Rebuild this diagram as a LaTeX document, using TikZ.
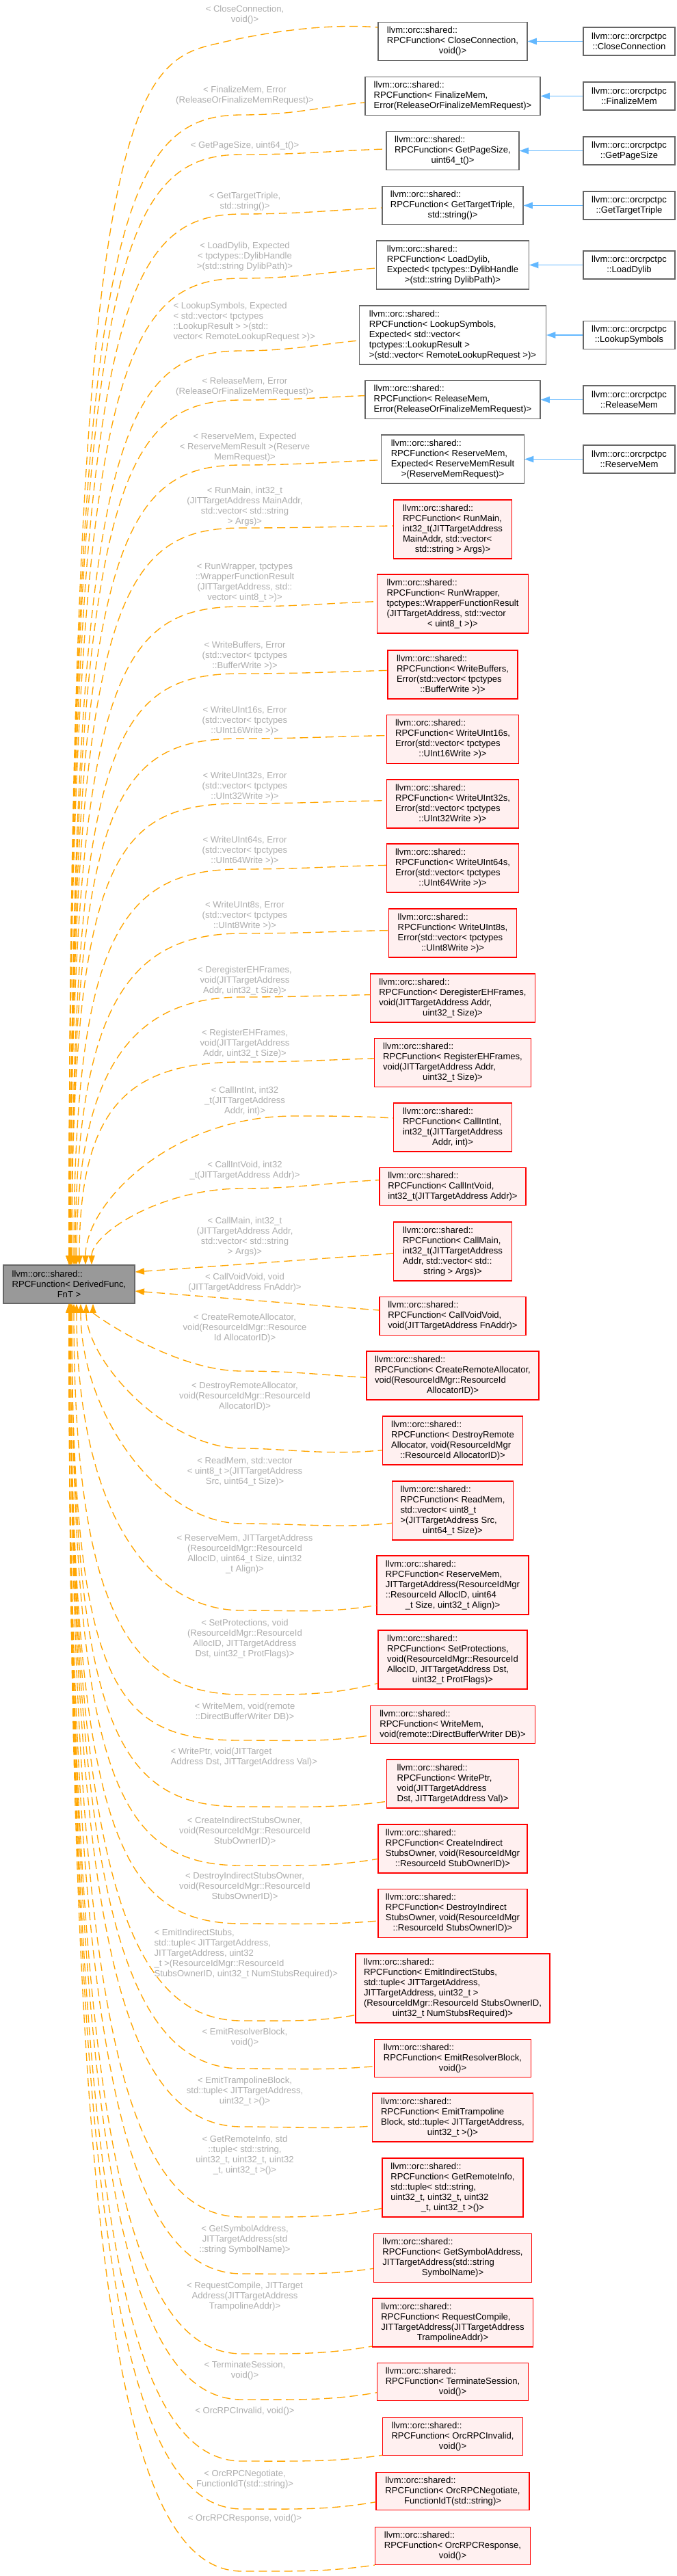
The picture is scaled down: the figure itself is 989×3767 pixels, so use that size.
\documentclass[tikz,border=0pt]{standalone}
\usepackage{fontspec}
\setmainfont{Liberation Sans}
\usetikzlibrary{arrows.meta}
\definecolor{edgeorange}{HTML}{FFA500}
\definecolor{steel}{HTML}{63B8FF}
\definecolor{fnred}{HTML}{FF0000}
\definecolor{fnfill}{HTML}{FFF0F0}
\definecolor{clsgray}{HTML}{666666}
\definecolor{basefill}{HTML}{999999}
\definecolor{lblgray}{HTML}{ADADAD}
\begin{document}
\begin{tikzpicture}[x=0.75pt,y=-0.75pt,>={Triangle[length=10pt,width=7pt]},
fnbox/.style={draw=fnred,fill=fnfill,line width=0.9pt,align=left,inner xsep=4pt,inner ysep=2pt,font={\fontsize{9.8}{11.25}\selectfont}},
clsbox/.style={draw=clsgray,fill=white,line width=0.9pt,align=left,inner xsep=4pt,inner ysep=2pt,font={\fontsize{9.8}{11.25}\selectfont}},
subbox/.style={draw=clsgray,fill=white,line width=0.9pt,align=center,minimum width=100.5pt,minimum height=30.75pt,inner sep=2pt,font={\fontsize{9.8}{11.25}\selectfont}},
basebox/.style={draw=clsgray,fill=basefill,line width=0.9pt,align=left,minimum width=144pt,minimum height=42pt,inner sep=2pt,font={\fontsize{9.8}{11.25}\selectfont}},
elabel/.style={align=center,text=lblgray,inner sep=1pt,font={\fontsize{9.8}{11.25}\selectfont}},
n3/.style={minimum height=41.7pt},n4/.style={minimum height=53.25pt},n5/.style={minimum height=64.5pt},n6/.style={minimum height=75.75pt},
tmpl/.style={draw=edgeorange,line width=1pt,dash pattern=on 9pt off 5pt,<-},
inh/.style={draw=steel,line width=1.1pt,->}]
\useasboundingbox (0,0) rectangle (989,3767);
% base class
\node[basebox](base) at (101,1878){llvm::orc::shared::\\RPCFunction< DerivedFunc,\\\hfill FnT >\hfill\null};
% template instances
\node[clsbox,n3,minimum width=163.5pt](f1) at (662,60.5){llvm::orc::shared::\\RPCFunction< CloseConnection,\\\hfill void()>\hfill\null};
\node[clsbox,n3,minimum width=192pt](f2) at (662,140.5){llvm::orc::shared::\\RPCFunction< FinalizeMem,\\\hfill Error(ReleaseOrFinalizeMemRequest)>\hfill\null};
\node[clsbox,n3,minimum width=145.5pt](f3) at (662,220.5){llvm::orc::shared::\\RPCFunction< GetPageSize,\\\hfill uint64\_t()>\hfill\null};
\node[clsbox,n3,minimum width=154.5pt](f4) at (662,300.5){llvm::orc::shared::\\RPCFunction< GetTargetTriple,\\\hfill std::string()>\hfill\null};
\node[clsbox,n4,minimum width=167.25pt](f5) at (662,387.5){llvm::orc::shared::\\RPCFunction< LoadDylib,\\Expected< tpctypes::DylibHandle\\\hfill >(std::string DylibPath)>\hfill\null};
\node[clsbox,n5,minimum width=204.75pt](f6) at (662,490){llvm::orc::shared::\\RPCFunction< LookupSymbols,\\Expected< std::vector<\\tpctypes::LookupResult >\\\hfill >(std::vector< RemoteLookupRequest >)>\hfill\null};
\node[clsbox,n3,minimum width=192pt](f7) at (662,584.5){llvm::orc::shared::\\RPCFunction< ReleaseMem,\\\hfill Error(ReleaseOrFinalizeMemRequest)>\hfill\null};
\node[clsbox,n4,minimum width=156.75pt](f8) at (662,671.5){llvm::orc::shared::\\RPCFunction< ReserveMem,\\Expected< ReserveMemResult\\\hfill >(ReserveMemRequest)>\hfill\null};
\node[fnbox,n5,minimum width=129.75pt](f9) at (662,774){llvm::orc::shared::\\RPCFunction< RunMain,\\int32\_t(JITTargetAddress\\MainAddr, std::vector<\\\hfill std::string > Args)>\hfill\null};
\node[fnbox,n5,minimum width=165.75pt](f10) at (662,883){llvm::orc::shared::\\RPCFunction< RunWrapper,\\tpctypes::WrapperFunctionResult\\(JITTargetAddress, std::vector\\\hfill < uint8\_t >)>\hfill\null};
\node[fnbox,n4,minimum width=142.5pt](f11) at (662,986.5){llvm::orc::shared::\\RPCFunction< WriteBuffers,\\Error(std::vector< tpctypes\\\hfill ::BufferWrite >)>\hfill\null};
\node[fnbox,n4,minimum width=145.1pt](f12) at (662,1081){llvm::orc::shared::\\RPCFunction< WriteUInt16s,\\Error(std::vector< tpctypes\\\hfill ::UInt16Write >)>\hfill\null};
\node[fnbox,n4,minimum width=145.1pt](f13) at (662,1175.5){llvm::orc::shared::\\RPCFunction< WriteUInt32s,\\Error(std::vector< tpctypes\\\hfill ::UInt32Write >)>\hfill\null};
\node[fnbox,n4,minimum width=145.1pt](f14) at (662,1269.5){llvm::orc::shared::\\RPCFunction< WriteUInt64s,\\Error(std::vector< tpctypes\\\hfill ::UInt64Write >)>\hfill\null};
\node[fnbox,n4,minimum width=140.25pt](f15) at (662,1364.5){llvm::orc::shared::\\RPCFunction< WriteUInt8s,\\Error(std::vector< tpctypes\\\hfill ::UInt8Write >)>\hfill\null};
\node[fnbox,n4,minimum width=180.5pt](f16) at (662,1459.5){llvm::orc::shared::\\RPCFunction< DeregisterEHFrames,\\void(JITTargetAddress Addr,\\\hfill uint32\_t Size)>\hfill\null};
\node[fnbox,n4,minimum width=171.75pt](f17) at (662,1554){llvm::orc::shared::\\RPCFunction< RegisterEHFrames,\\void(JITTargetAddress Addr,\\\hfill uint32\_t Size)>\hfill\null};
\node[fnbox,n4,minimum width=129.75pt](f18) at (662,1648.5){llvm::orc::shared::\\RPCFunction< CallIntInt,\\int32\_t(JITTargetAddress\\\hfill Addr, int)>\hfill\null};
\node[fnbox,n3,minimum width=160.5pt](f19) at (662,1735){llvm::orc::shared::\\RPCFunction< CallIntVoid,\\\hfill int32\_t(JITTargetAddress Addr)>\hfill\null};
\node[fnbox,n5,minimum width=129.75pt](f20) at (662,1830){llvm::orc::shared::\\RPCFunction< CallMain,\\int32\_t(JITTargetAddress\\Addr, std::vector< std::\\\hfill string > Args)>\hfill\null};
\node[fnbox,n3,minimum width=160.5pt](f21) at (662,1924.5){llvm::orc::shared::\\RPCFunction< CallVoidVoid,\\\hfill void(JITTargetAddress FnAddr)>\hfill\null};
\node[fnbox,n4,minimum width=189pt](f22) at (662,2011.5){llvm::orc::shared::\\RPCFunction< CreateRemoteAllocator,\\void(ResourceIdMgr::ResourceId\\\hfill AllocatorID)>\hfill\null};
\node[fnbox,n4,minimum width=153.75pt](f23) at (662,2106.5){llvm::orc::shared::\\RPCFunction< DestroyRemote\\Allocator, void(ResourceIdMgr\\\hfill ::ResourceId AllocatorID)>\hfill\null};
\node[fnbox,n5,minimum width=132.75pt](f24) at (662,2209){llvm::orc::shared::\\RPCFunction< ReadMem,\\std::vector< uint8\_t\\>(JITTargetAddress Src,\\\hfill uint64\_t Size)>\hfill\null};
\node[fnbox,n5,minimum width=166.5pt](f25) at (662,2318){llvm::orc::shared::\\RPCFunction< ReserveMem,\\JITTargetAddress(ResourceIdMgr\\::ResourceId AllocID, uint64\\\hfill \_t Size, uint32\_t Align)>\hfill\null};
\node[fnbox,n5,minimum width=163.5pt](f26) at (662,2427){llvm::orc::shared::\\RPCFunction< SetProtections,\\void(ResourceIdMgr::ResourceId\\AllocID, JITTargetAddress Dst,\\\hfill uint32\_t ProtFlags)>\hfill\null};
\node[fnbox,n3,minimum width=180.75pt](f27) at (662,2522){llvm::orc::shared::\\RPCFunction< WriteMem,\\\hfill void(remote::DirectBufferWriter DB)>\hfill\null};
\node[fnbox,n4,minimum width=144.5pt](f28) at (662,2608.5){llvm::orc::shared::\\RPCFunction< WritePtr,\\void(JITTargetAddress\\\hfill Dst, JITTargetAddress Val)>\hfill\null};
\node[fnbox,n4,minimum width=163.5pt](f29) at (662,2703.5){llvm::orc::shared::\\RPCFunction< CreateIndirect\\StubsOwner, void(ResourceIdMgr\\\hfill ::ResourceId StubOwnerID)>\hfill\null};
\node[fnbox,n4,minimum width=163.5pt](f30) at (662,2798){llvm::orc::shared::\\RPCFunction< DestroyIndirect\\StubsOwner, void(ResourceIdMgr\\\hfill ::ResourceId StubsOwnerID)>\hfill\null};
\node[fnbox,n6,minimum width=213pt](f31) at (662,2907.5){llvm::orc::shared::\\RPCFunction< EmitIndirectStubs,\\std::tuple< JITTargetAddress,\\JITTargetAddress, uint32\_t >\\(ResourceIdMgr::ResourceId StubsOwnerID,\\\hfill uint32\_t NumStubsRequired)>\hfill\null};
\node[fnbox,n3,minimum width=171.75pt](f32) at (662,3010){llvm::orc::shared::\\RPCFunction< EmitResolverBlock,\\\hfill void()>\hfill\null};
\node[fnbox,n4,minimum width=176.25pt](f33) at (662,3096.5){llvm::orc::shared::\\RPCFunction< EmitTrampoline\\Block, std::tuple< JITTargetAddress,\\\hfill uint32\_t >()>\hfill\null};
\node[fnbox,n5,minimum width=154.5pt](f34) at (662,3199){llvm::orc::shared::\\RPCFunction< GetRemoteInfo,\\std::tuple< std::string,\\uint32\_t, uint32\_t, uint32\\\hfill \_t, uint32\_t >()>\hfill\null};
\node[fnbox,n4,minimum width=173pt](f35) at (662,3302){llvm::orc::shared::\\RPCFunction< GetSymbolAddress,\\JITTargetAddress(std::string\\\hfill SymbolName)>\hfill\null};
\node[fnbox,n4,minimum width=176.25pt](f36) at (662,3396.5){llvm::orc::shared::\\RPCFunction< RequestCompile,\\JITTargetAddress(JITTargetAddress\\\hfill TrampolineAddr)>\hfill\null};
\node[fnbox,n3,minimum width=165.75pt](f37) at (662,3483){llvm::orc::shared::\\RPCFunction< TerminateSession,\\\hfill void()>\hfill\null};
\node[fnbox,n3,minimum width=153.75pt](f38) at (662,3563){llvm::orc::shared::\\RPCFunction< OrcRPCInvalid,\\\hfill void()>\hfill\null};
\node[fnbox,n3,minimum width=168pt](f39) at (662,3643){llvm::orc::shared::\\RPCFunction< OrcRPCNegotiate,\\\hfill FunctionIdT(std::string)>\hfill\null};
\node[fnbox,n3,minimum width=170.25pt](f40) at (662,3723){llvm::orc::shared::\\RPCFunction< OrcRPCResponse,\\\hfill void()>\hfill\null};
% derived classes
\node[subbox](t1) at (920,60.5){llvm::orc::orcrpctpc\\::CloseConnection};
\node[subbox](t2) at (920,140.5){llvm::orc::orcrpctpc\\::FinalizeMem};
\node[subbox](t3) at (920,220.5){llvm::orc::orcrpctpc\\::GetPageSize};
\node[subbox](t4) at (920,300.5){llvm::orc::orcrpctpc\\::GetTargetTriple};
\node[subbox](t5) at (920,387.5){llvm::orc::orcrpctpc\\::LoadDylib};
\node[subbox](t6) at (920,490){llvm::orc::orcrpctpc\\::LookupSymbols};
\node[subbox](t7) at (920,584.5){llvm::orc::orcrpctpc\\::ReleaseMem};
\node[subbox](t8) at (920,671.5){llvm::orc::orcrpctpc\\::ReserveMem};
% edge labels
\node[elabel](l1) at (358,21.5){< CloseConnection,\\void()>};
\node[elabel](l2) at (358,139.5){< FinalizeMem, Error\\(ReleaseOrFinalizeMemRequest)>};
\node[elabel](l3) at (358,213){< GetPageSize, uint64\_t()>};
\node[elabel](l4) at (358,294.5){< GetTargetTriple,\\std::string()>};
\node[elabel](l5) at (358,375){< LoadDylib, Expected\\< tpctypes::DylibHandle\\>(std::string DylibPath)>};
\node[elabel,align=left,anchor=west](l6) at (252,471){< LookupSymbols, Expected\\< std::vector< tpctypes\\::LookupResult > >(std::\\vector< RemoteLookupRequest >)>};
\node[elabel](l7) at (358,565.5){< ReleaseMem, Error\\(ReleaseOrFinalizeMemRequest)>};
\node[elabel](l8) at (358,653.7){< ReserveMem, Expected\\< ReserveMemResult >(Reserve\\MemRequest)>};
\node[elabel](l9) at (358,740.5){< RunMain, int32\_t\\(JITTargetAddress MainAddr,\\std::vector< std::string\\> Args)>};
\node[elabel](l10) at (358,851.4){< RunWrapper, tpctypes\\::WrapperFunctionResult\\(JITTargetAddress, std::\\vector< uint8\_t >)>};
\node[elabel](l11) at (358,959){< WriteBuffers, Error\\(std::vector< tpctypes\\::BufferWrite >)>};
\node[elabel](l12) at (358,1054){< WriteUInt16s, Error\\(std::vector< tpctypes\\::UInt16Write >)>};
\node[elabel](l13) at (358,1150){< WriteUInt32s, Error\\(std::vector< tpctypes\\::UInt32Write >)>};
\node[elabel](l14) at (358,1244){< WriteUInt64s, Error\\(std::vector< tpctypes\\::UInt64Write >)>};
\node[elabel](l15) at (358,1338.7){< WriteUInt8s, Error\\(std::vector< tpctypes\\::UInt8Write >)>};
\node[elabel](l16) at (358,1434){< DeregisterEHFrames,\\void(JITTargetAddress\\Addr, uint32\_t Size)>};
\node[elabel](l17) at (358,1525.7){< RegisterEHFrames,\\void(JITTargetAddress\\Addr, uint32\_t Size)>};
\node[elabel](l18) at (358,1610){< CallIntInt, int32\\\_t(JITTargetAddress\\Addr, int)>};
\node[elabel](l19) at (358,1711.3){< CallIntVoid, int32\\\_t(JITTargetAddress Addr)>};
\node[elabel](l20) at (358,1808.2){< CallMain, int32\_t\\(JITTargetAddress Addr,\\std::vector< std::string\\> Args)>};
\node[elabel](l21) at (358,1875.5){< CallVoidVoid, void\\(JITTargetAddress FnAddr)>};
\node[elabel](l22) at (358,1942){< CreateRemoteAllocator,\\void(ResourceIdMgr::Resource\\Id AllocatorID)>};
\node[elabel](l23) at (358,2042){< DestroyRemoteAllocator,\\void(ResourceIdMgr::ResourceId\\AllocatorID)>};
\node[elabel](l24) at (358,2152){< ReadMem, std::vector\\< uint8\_t >(JITTargetAddress\\Src, uint64\_t Size)>};
\node[elabel](l25) at (358,2272.5){< ReserveMem, JITTargetAddress\\(ResourceIdMgr::ResourceId\\AllocID, uint64\_t Size, uint32\\\_t Align)>};
\node[elabel](l26) at (358,2396.5){< SetProtections, void\\(ResourceIdMgr::ResourceId\\AllocID, JITTargetAddress\\Dst, uint32\_t ProtFlags)>};
\node[elabel](l27) at (358,2503.5){< WriteMem, void(remote\\::DirectBufferWriter DB)>};
\node[elabel,align=left,anchor=west](l28) at (248,2569.5){< WritePtr, void(JITTarget\\Address Dst, JITTargetAddress Val)>};
\node[elabel](l29) at (358,2678){< CreateIndirectStubsOwner,\\void(ResourceIdMgr::ResourceId\\StubOwnerID)>};
\node[elabel](l30) at (358,2759){< DestroyIndirectStubsOwner,\\void(ResourceIdMgr::ResourceId\\StubsOwnerID)>};
\node[elabel,align=left,anchor=west](l31) at (224,2857){< EmitIndirectStubs,\\std::tuple< JITTargetAddress,\\JITTargetAddress, uint32\\\_t >(ResourceIdMgr::ResourceId\\StubsOwnerID, uint32\_t NumStubsRequired)>};
\node[elabel](l32) at (358,2979.5){< EmitResolverBlock,\\void()>};
\node[elabel](l33) at (358,3058){< EmitTrampolineBlock,\\std::tuple< JITTargetAddress,\\uint32\_t >()>};
\node[elabel](l34) at (358,3151.3){< GetRemoteInfo, std\\::tuple< std::string,\\uint32\_t, uint32\_t, uint32\\\_t, uint32\_t >()>};
\node[elabel](l35) at (358,3274.7){< GetSymbolAddress,\\JITTargetAddress(std\\::string SymbolName)>};
\node[elabel](l36) at (358,3357.7){< RequestCompile, JITTarget\\Address(JITTargetAddress\\TrampolineAddr)>};
\node[elabel](l37) at (358,3466.5){< TerminateSession,\\void()>};
\node[elabel](l38) at (358,3526){< OrcRPCInvalid, void()>};
\node[elabel](l39) at (358,3625.5){< OrcRPCNegotiate,\\FunctionIdT(std::string)>};
\node[elabel](l40) at (358,3683){< OrcRPCResponse, void()>};
% inheritance
\draw[inh](t1)--(f1);\draw[inh](t2)--(f2);\draw[inh](t3)--(f3);\draw[inh](t4)--(f4);
\draw[inh](t5)--(f5);\draw[inh](t6)--(f6);\draw[inh](t7)--(f7);\draw[inh](t8)--(f8);
% template instantiations above the base
\draw[tmpl] (base.north) .. controls +(0,-1614) and +(-120,30) .. (304,67) .. controls +(100,-25) and +(-60,-5) .. ([yshift=15.4pt]f1.west);
\draw[tmpl] (base.north) .. controls +(0,-1514) and +(-180,0) .. (354,168) .. controls +(80,0) and +(-60,5) .. ([yshift=-7.1pt]f2.west);
\draw[tmpl] (base.north) .. controls +(0,-1462) and +(-180,0) .. (354,226) .. controls +(90,0) and +(-70,2) .. ([yshift=1.9pt]f3.west);
\draw[tmpl] (base.north) .. controls +(0,-1383) and +(-180,0) .. (354,313) .. controls +(85,0) and +(-70,3) .. ([yshift=-2.6pt]f4.west);
\draw[tmpl] (base.north) .. controls +(0,-1299) and +(-180,0) .. (354,407) .. controls +(80,0) and +(-65,5) .. ([yshift=-3.4pt]f5.west);
\draw[tmpl] ([xshift=1.5pt]base.north) .. controls +(0,-1203) and +(-180,0) .. (354,513) .. controls +(70,0) and +(-55,5) .. ([yshift=-6pt]f6.west);
\draw[tmpl] ([xshift=1.5pt]base.north) .. controls +(0,-1138) and +(-180,0) .. (354,585) .. controls +(75,0) and +(-60,2) .. ([yshift=4.4pt]f7.west);
\draw[tmpl] ([xshift=1.5pt]base.north) .. controls +(0,-1053) and +(-180,0) .. (354,680) .. controls +(85,0) and +(-70,2) .. ([yshift=-1pt]f8.west);
\draw[tmpl] ([xshift=1.5pt]base.north) .. controls +(0,-970) and +(-180,0) .. (354,772) .. controls +(90,0) and +(-75,1) .. ([yshift=3.75pt]f9.west);
\draw[tmpl] ([xshift=1.5pt]base.north) .. controls +(0,-867) and +(-180,0) .. (354,887) .. controls +(80,0) and +(-65,2) .. ([yshift=2.5pt]f10.west);
\draw[tmpl] ([xshift=3pt]base.north) .. controls +(0,-778) and +(-180,0) .. (354,985) .. controls +(85,0) and +(-70,2) .. ([yshift=4.6pt]f11.west);
\draw[tmpl] ([xshift=3pt]base.north) .. controls +(0,-693) and +(-180,0) .. (354,1080) .. controls +(85,0) and +(-70,1) .. ([yshift=4pt]f12.west);
\draw[tmpl] ([xshift=3pt]base.north) .. controls +(0,-607) and +(-180,0) .. (354,1175) .. controls +(85,0) and +(-70,1) .. ([yshift=3.6pt]f13.west);
\draw[tmpl] ([xshift=5.25pt]base.north) .. controls +(0,-492) and +(-170,0) .. (354,1271) .. controls +(85,0) and +(-70,1) .. ([yshift=3.1pt]f14.west);
\draw[tmpl] ([xshift=6.75pt]base.north) .. controls +(0,-388) and +(-160,0) .. (354,1365) .. controls +(85,0) and +(-70,1) .. ([yshift=2.9pt]f15.west);
\draw[tmpl] ([xshift=8.25pt]base.north) .. controls +(0,-294) and +(-155,0) .. (354,1458) .. controls +(75,0) and +(-60,1) .. ([yshift=3.6pt]f16.west);
\draw[tmpl] ([xshift=11.25pt]base.north) .. controls +(0,-238) and +(-160,0) .. (354,1553) .. controls +(80,0) and +(-65,2) .. ([yshift=4.7pt]f17.west);
\draw[tmpl] ([xshift=18pt]base.north) .. controls +(0,-90) and +(-180,0) .. (430,1632) .. controls +(60,0) and +(-50,-3) .. ([yshift=10.1pt]f18.west);
\draw[tmpl] ([xshift=24.75pt]base.north) .. controls +(0,-45) and +(-120,0) .. (354,1738) .. controls +(80,0) and +(-65,3) .. ([yshift=7pt]f19.west);
\draw[tmpl] ([yshift=13.5pt]base.east) -- ([yshift=-2.25pt]f20.west);
\draw[tmpl] ([yshift=-7.5pt]base.east) -- ([yshift=6.4pt]f21.west);
% template instantiations below the base
\draw[tmpl] ([xshift=26.25pt]base.south) .. controls +(0,15) and +(-100,0) .. (354,2005) .. controls +(80,0) and +(-60,-3) .. ([yshift=-2.1pt]f22.west);
\draw[tmpl] ([xshift=18.75pt]base.south) .. controls +(0,84) and +(-110,0) .. (354,2118) .. controls +(60,0) and +(-80,8) .. ([yshift=-10.6pt]f23.west);
\draw[tmpl] ([xshift=12.75pt]base.south) .. controls +(0,161) and +(-120,0) .. (354,2228) .. controls +(80,0) and +(-70,8) .. ([yshift=-13.7pt]f24.west);
\draw[tmpl] ([xshift=8.25pt]base.south) .. controls +(0,292) and +(-140,0) .. (354,2355) .. controls +(80,0) and +(-70,12) .. ([yshift=-22pt]f25.west);
\draw[tmpl] ([xshift=5.25pt]base.south) .. controls +(0,458) and +(-160,0) .. (354,2478) .. controls +(80,0) and +(-70,18) .. ([yshift=-26pt]f26.west);
\draw[tmpl] ([xshift=3pt]base.south) .. controls +(0,575) and +(-180,0) .. (354,2545) .. controls +(75,0) and +(-65,10) .. ([yshift=-11.8pt]f27.west);
\draw[tmpl] ([xshift=3pt]base.south) .. controls +(0,626) and +(-180,0) .. (354,2642) .. controls +(85,0) and +(-75,10) .. ([yshift=-19.4pt]f28.west);
\draw[tmpl] ([xshift=3pt]base.south) .. controls +(0,699) and +(-180,0) .. (354,2728) .. controls +(80,0) and +(-70,12) .. ([yshift=-11.1pt]f29.west);
\draw[tmpl] ([xshift=1.5pt]base.south) .. controls +(0,771) and +(-180,0) .. (354,2813) .. controls +(80,0) and +(-70,6) .. ([yshift=-8.25pt]f30.west);
\draw[tmpl] ([xshift=1.5pt]base.south) .. controls +(0,787) and +(-180,0) .. (354,2955) .. controls +(65,0) and +(-55,10) .. ([yshift=-29.4pt]f31.west);
\draw[tmpl] ([xshift=1.5pt]base.south) .. controls +(0,839) and +(-180,0) .. (354,3025) .. controls +(80,0) and +(-70,6) .. ([yshift=-8.8pt]f32.west);
\draw[tmpl] ([xshift=1.5pt]base.south) .. controls +(0,903) and +(-180,0) .. (354,3110) .. controls +(80,0) and +(-70,5) .. ([yshift=-9.4pt]f33.west);
\draw[tmpl] ([xshift=1.5pt]base.south) .. controls +(0,1002) and +(-180,0) .. (354,3242) .. controls +(85,0) and +(-70,14) .. ([yshift=-22.7pt]f34.west);
\draw[tmpl] (base.south) .. controls +(0,1064) and +(-180,0) .. (354,3325) .. controls +(80,0) and +(-70,10) .. ([yshift=-11.5pt]f35.west);
\draw[tmpl] (base.south) .. controls +(0,1152) and +(-180,0) .. (354,3442) .. controls +(80,0) and +(-70,12) .. ([yshift=-25.9pt]f36.west);
\draw[tmpl] (base.south) .. controls +(0,1202) and +(-180,0) .. (354,3509) .. controls +(80,0) and +(-70,12) .. ([yshift=-11.8pt]f37.west);
\draw[tmpl] (base.south) .. controls +(0,1270) and +(-180,0) .. (354,3599) .. controls +(85,0) and +(-70,10) .. ([yshift=-20.5pt]f38.west);
\draw[tmpl] (base.south) .. controls +(0,1322) and +(-180,0) .. (354,3669) .. controls +(80,0) and +(-70,12) .. ([yshift=-11.8pt]f39.west);
\draw[tmpl] (base.south) .. controls +(0,1390) and +(-180,0) .. (354,3760) .. controls +(80,0) and +(-70,10) .. ([yshift=-21pt]f40.west);
\end{tikzpicture}
\end{document}
